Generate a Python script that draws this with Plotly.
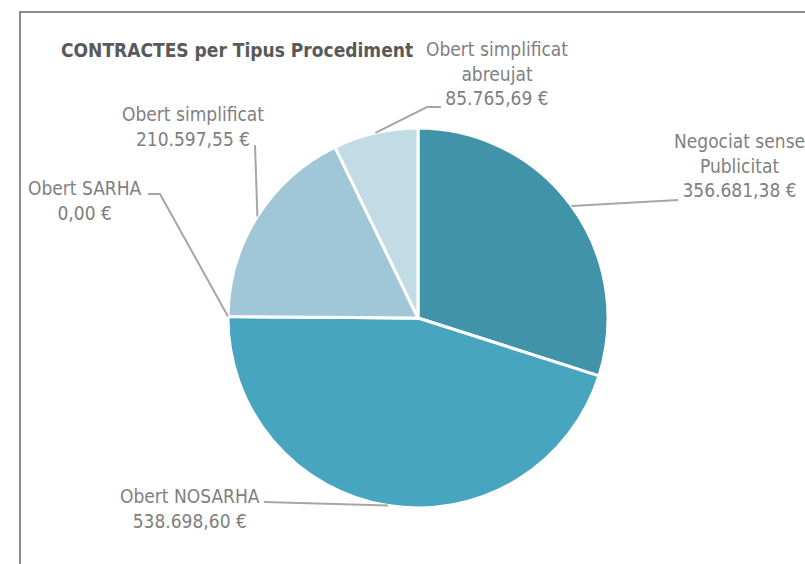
import math
import plotly.graph_objects as go

# ---- data ----
categories = ["Negociat sense Publicitat", "Obert NOSARHA", "Obert SARHA",
              "Obert simplificat", "Obert simplificat abreujat"]
label_lines = [["Negociat sense", "Publicitat"], ["Obert NOSARHA"], ["Obert SARHA"],
               ["Obert simplificat"], ["Obert simplificat", "abreujat"]]
values = [356681.38, 538698.60, 0.00, 210597.55, 85765.69]
value_text = ["356.681,38 €", "538.698,60 €", "0,00 €", "210.597,55 €", "85.765,69 €"]
colors = ["#4193AA", "#47A5BF", "#7FB8CC", "#A0C7D7", "#C1DCE5"]
title = "CONTRACTES per Tipus Procediment"

# ---- layout (pixels) ----
W, H = 805, 564
CX, CY, R = 418, 318, 190
FONT = "Liberation Sans Narrow, Arial Narrow, DejaVu Sans Condensed, sans-serif"
TXT = "#7f7f7f"
LINE = "#a6a6a6"
# label block centre and leader path (elbow points after the slice edge)
label_pos = [(739, 165), (190, 508), (85, 200), (193, 126), (497, 73)]
leader_pts = [[(678, 200)], [(264, 502)], [(160, 194), (148, 194)],
              [(255, 145)], [(427, 107), (441, 107)]]

fig = go.Figure()
fig.add_trace(go.Pie(
    labels=categories, values=values, sort=False, direction="clockwise",
    rotation=0, marker=dict(colors=colors, line=dict(color="white", width=3)),
    textinfo="none", hoverinfo="label+value", showlegend=False,
    domain=dict(x=[(CX - R) / W, (CX + R) / W], y=[1 - (CY + R) / H, 1 - (CY - R) / H]),
))

total = sum(values)
cum = 0.0
shapes = []
annotations = []
for i, v in enumerate(values):
    mid = (cum + v / 2) / total * 2 * math.pi
    cum += v
    ex, ey = CX + R * math.sin(mid), CY - R * math.cos(mid)
    pts = [(ex, ey)] + leader_pts[i]
    path = "M " + " L ".join(f"{x:.1f},{y:.1f}" for x, y in pts)
    shapes.append(dict(type="path", path=path, xref="x", yref="y",
                       line=dict(color=LINE, width=2)))
    lx, ly = label_pos[i]
    annotations.append(dict(
        x=lx, y=ly, xref="x", yref="y", showarrow=False,
        text="<br>".join(label_lines[i] + [value_text[i]]),
        xanchor="center", yanchor="middle", align="center",
        font=dict(family=FONT, size=19, color=TXT)))

annotations.append(dict(x=59, y=50, xref="x", yref="y", showarrow=False,
                        text=f"<b>{title}</b>", xanchor="left", yanchor="middle",
                        font=dict(family=FONT, size=19, color="#595959")))
# chart frame
shapes.append(dict(type="rect", xref="x", yref="y", x0=20, y0=12, x1=W + 20, y1=H + 20,
                   line=dict(color="#8c8c8c", width=2), layer="below"))

fig.update_layout(
    width=W, height=H, margin=dict(l=0, r=0, t=0, b=0),
    paper_bgcolor="white", plot_bgcolor="rgba(0,0,0,0)",
    xaxis=dict(range=[0, W], visible=False, fixedrange=True),
    yaxis=dict(range=[H, 0], visible=False, fixedrange=True),
    shapes=shapes, annotations=annotations,
)
fig.write_html("out.html", config={"displayModeBar": False},
               post_script="document.body.style.margin='0';document.body.style.padding='0';")
